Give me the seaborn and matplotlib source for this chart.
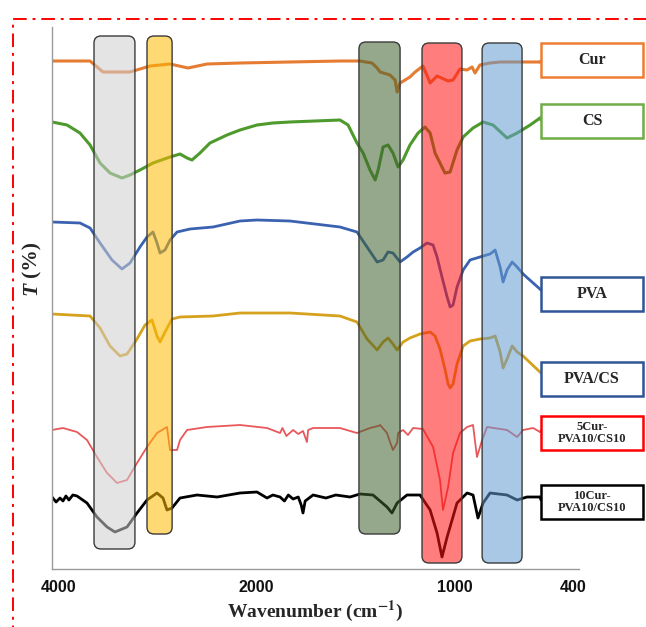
import numpy as np
import matplotlib
matplotlib.use("Agg")
import matplotlib.pyplot as plt
import seaborn as sns
import pandas as pd
from matplotlib.patches import FancyBboxPatch, Rectangle
from matplotlib.lines import Line2D

# ---------------- data (wavenumber cm-1, relative transmittance) ----------------
cur_wn = [4071, 3686, 3555, 3282, 3079, 2877, 2695, 2503, 2169, 1832, 1579, 1478, 1417, 1391,
          1376, 1326, 1300, 1290, 1275, 1225, 1199, 1159, 1123, 1088, 1032, 1007, 972, 936,
          911, 896, 871, 820, 769, 668, 567]
cur_t = [0, 0, -11, -11, -5, -3, -7, -3, -2, -1, 0, 0, -2, -7,
         -11, -14, -19, -31, -22, -16, -11, -5, -22, -15, -20, -19, -8, -9,
         -6, -12, -4, -2, -1, -1, -1]

cs_wn = [4071, 3919, 3788, 3686, 3585, 3484, 3363, 3282, 3181, 3049, 2877, 2776, 2705, 2655,
         2574, 2473, 2301, 2169, 1999, 1918, 1832, 1579, 1538, 1493, 1462, 1427, 1401, 1386,
         1361, 1336, 1311, 1285, 1260, 1225, 1184, 1149, 1123, 1098, 1073, 1048, 1022, 987,
         956, 906, 855, 805, 734, 683, 617, 567]
cs_t = [0, -3, -11, -23, -41, -51, -56, -53, -48, -41, -35, -32, -36, -38,
        -31, -21, -13, -8, -3, -1, 0, 2, -3, -21, -31, -48, -58, -48,
        -25, -23, -31, -45, -38, -23, -11, -5, -11, -31, -41, -51, -50, -28,
        -15, -6, 0, -3, -16, -11, -3, 4]

pva_wn = [4071, 3788, 3686, 3585, 3464, 3363, 3282, 3181, 3110, 3049, 3009, 2978, 2928, 2877,
          2806, 2675, 2442, 2169, 1999, 1832, 1579, 1493, 1442, 1391, 1361, 1336, 1311, 1275,
          1240, 1209, 1174, 1139, 1108, 1088, 1063, 1037, 1022, 1007, 987, 956, 921, 871,
          820, 794, 769, 754, 734, 708, 683, 653]
pva_t = [0, -1, -6, -21, -38, -47, -41, -25, -15, -10, -21, -31, -28, -18,
         -10, -7, -5, 1, 2, 1, -5, -10, -25, -40, -38, -30, -31, -40,
         -35, -30, -26, -21, -23, -35, -55, -75, -85, -83, -65, -48, -38, -35,
         -32, -28, -45, -60, -48, -40, -45, -52]

pvacs_wn = [4071, 3686, 3585, 3484, 3383, 3312, 3211, 3130, 3059, 3009, 2978, 2928, 2857, 2776,
            2442, 2169, 1832, 1579, 1493, 1442, 1391, 1361, 1336, 1311, 1290, 1260, 1225, 1174,
            1123, 1098, 1073, 1048, 1032, 1022, 1007, 987, 956, 921, 871, 820, 794, 769,
            754, 734, 708, 683, 653]
pvacs_t = [0, -2, -14, -32, -42, -40, -25, -11, -6, -22, -28, -18, -5, -3,
           -2, 1, 1, -2, -8, -25, -36, -28, -24, -30, -36, -28, -24, -20,
           -18, -22, -35, -55, -70, -74, -70, -50, -32, -27, -25, -24, -22, -38,
           -54, -45, -32, -38, -42]

c5_wn = [4071, 3960, 3818, 3717, 3616, 3514, 3413, 3312, 3211, 3110, 3009, 2908, 2877, 2806,
         2776, 2705, 2503, 2169, 1948, 1882, 1870, 1850, 1816, 1790, 1766, 1746, 1740, 1715,
         1579, 1528, 1493, 1427, 1386, 1376, 1341, 1326, 1311, 1290, 1285, 1260, 1235, 1209,
         1159, 1108, 1073, 1058, 1032, 1007, 972, 936, 906, 886, 860, 835, 734, 683,
         653, 602, 567]
c5_t = [-2, 0, -4, -12, -29, -45, -55, -52, -35, -19, -5, 1, -22, -22,
        -12, -2, 1, 3, 0, -5, 0, -8, -2, -6, -3, -14, -2, 0,
        0, -3, -5, 0, 2, 3, -5, -14, -22, -15, -5, -2, -7, 0,
        -1, -19, -52, -82, -59, -25, -5, 1, 3, -29, -12, 1, -2, -9,
        -2, 0, -4]

c10_wn = [4071, 4030, 3990, 3960, 3930, 3900, 3860, 3818, 3717, 3616, 3514, 3434, 3312, 3211,
          3110, 3009, 2948, 2908, 2857, 2776, 2604, 2400, 2169, 1999, 1948, 1918, 1882, 1860,
          1840, 1816, 1790, 1775, 1766, 1755, 1715, 1650, 1600, 1528, 1478, 1412, 1341, 1316,
          1290, 1240, 1174, 1123, 1088, 1063, 1037, 987, 936, 906, 881, 855, 820, 734,
          683, 633, 567]
c10_t = [-2, -7, -3, -6, -1, -5, 0, -1, -8, -22, -32, -37, -32, -18,
         -5, 2, -3, -15, -13, -3, 0, -2, 2, 3, -3, 0, -2, -6,
         0, -4, -2, -10, -18, -6, 0, -3, 0, -2, 1, 0, -12, -18,
         -8, 0, 0, -15, -38, -62, -42, -8, 2, 0, -23, -8, 2, 0,
         -5, -2, -2]

labels = ["Cur", "CS", "PVA", "PVA/CS", "5Cur-\nPVA10/CS10", "10Cur-\nPVA10/CS10"]
series_wn = [cur_wn, cs_wn, pva_wn, pvacs_wn, c5_wn, c10_wn]
series_t = [cur_t, cs_t, pva_t, pvacs_t, c5_t, c10_t]

band_ranges = [(3646, 3232), (3110, 2856), (1483, 1275), (1164, 962), (860, 658)]
tick_values = [4000, 2000, 1000, 400]

# ---------------- styling ----------------
W, H = 646, 627
sns.set_theme(style="white")
plt.rcParams['font.family'] = ['Liberation Sans', 'DejaVu Sans']
plt.rcParams['mathtext.fontset'] = 'stix'

line_colors = ["#E57C32", "#4E9A2C", "#3A62B0", "#D6A11C", "#E8585A", "#000000"]
line_widths = [2.2, 2.2, 2.0, 2.0, 1.3, 2.0]
offsets = [508, 447, 347, 255, 141, 74]
box_edge = ["#ED7D31", "#70AD47", "#2F5597", "#2F5597", "#FF0000", "#000000"]
box_tops = [43, 104, 277, 362, 416, 485]
box_conn_y = [61, 120, 290, 373, 430, 500]
band_faces = [(0.81, 0.81, 0.81, 0.55), (1.0, 0.73, 0.0, 0.55), (0.25, 0.38, 0.18, 0.55),
              (1.0, 0.075, 0.075, 0.55), (0.39, 0.61, 0.82, 0.55)]
band_px_y = [(36, 549), (36, 534), (42, 534), (43, 563), (43, 563)]

fig = plt.figure(figsize=(W / 100, H / 100), dpi=100)
ax_l, ax_r, ax_t, ax_b = 52, 579, 27, 569
ax = fig.add_axes([ax_l / W, 1 - ax_b / H, (ax_r - ax_l) / W, (ax_b - ax_t) / H])


def fwd(x):
    x = np.asarray(x, dtype=float)
    return np.where(x > 2000, 2000 + (x - 2000) / 2.0, x)


def inv(t):
    t = np.asarray(t, dtype=float)
    return np.where(t > 2000, 2000 + 2.0 * (t - 2000), t)


ax.set_xscale('function', functions=(fwd, inv))
ax.set_xlim(4071, 370)
ax.set_ylim(0, ax_b - ax_t)

for wn, t, col, lw, off in zip(series_wn, series_t, line_colors, line_widths, offsets):
    df = pd.DataFrame({"wn": wn, "T": np.asarray(t, dtype=float) + off})
    sns.lineplot(data=df, x="wn", y="T", ax=ax, color=col, lw=lw, sort=False,
                 estimator=None, zorder=2)

ax.set_xticks(tick_values)
ax.set_xticklabels([str(v) for v in tick_values], fontsize=11.5, fontweight='bold')
ax.tick_params(axis='x', length=0, pad=8, colors='#111111')
ax.set_yticks([])
ax.set_xlabel("")
ax.set_ylabel("")
for s in ['top', 'right']:
    ax.spines[s].set_visible(False)
for s in ['left', 'bottom']:
    ax.spines[s].set_color('#9a9a9a')
    ax.spines[s].set_linewidth(1.0)

fig.canvas.draw()

# bands (rounded boxes, overlayed with transparency)
for (w1, w2), fc, (ytop, ybot) in zip(band_ranges, band_faces, band_px_y):
    x1 = ax.transData.transform((w1, 0))[0]
    x2 = ax.transData.transform((w2, 0))[0]
    p = FancyBboxPatch((x1 / W, 1 - ybot / H), (x2 - x1) / W, (ybot - ytop) / H,
                       boxstyle="round,pad=0,rounding_size=0.011",
                       transform=fig.transFigure, facecolor=fc, edgecolor="#3a3a3a",
                       linewidth=1.0, zorder=5)
    fig.add_artist(p)

# label boxes + connectors
box_l, box_r, box_h = 541, 643, 34
for lab, ec, top, cy, wn, t, col, lw, off in zip(labels, box_edge, box_tops, box_conn_y,
                                                 series_wn, series_t, line_colors,
                                                 line_widths, offsets):
    xe, ye = ax.transData.transform((wn[-1], t[-1] + off))
    conn = Line2D([xe / W, box_l / W], [ye / H, 1 - cy / H], transform=fig.transFigure,
                  color=col, lw=lw)
    fig.add_artist(conn)
    r = Rectangle((box_l / W, 1 - (top + box_h) / H), (box_r - box_l) / W, box_h / H,
                  transform=fig.transFigure, facecolor='white', edgecolor=ec,
                  linewidth=1.8, zorder=6)
    fig.add_artist(r)
    fs = 11.5 if "\n" not in lab else 9
    fig.text((box_l + box_r) / 2 / W, 1 - (top + box_h / 2) / H, lab, ha='center',
             va='center', fontsize=fs, fontweight='bold', family='Liberation Serif',
             linespacing=1.0, zorder=7)

# axis titles
fig.text(315 / W, 1 - 611 / H, "Wavenumber (cm$^{\\mathbf{-1}}$)", ha='center', va='center',
         fontsize=14, fontweight='bold', family='Liberation Serif')
fig.text(31 / W, 1 - 288 / H, "T", rotation=90, ha='center', va='center', fontsize=15.5,
         fontweight='bold', style='italic', family='Liberation Serif')
fig.text(31 / W, 1 - 259 / H, "(%)", rotation=90, ha='center', va='center', fontsize=15.5,
         fontweight='bold', family='Liberation Serif')

# red dash-dot frame
frame = Rectangle((13 / W, -0.05), 1.2, 1 - 19 / H + 0.05, transform=fig.transFigure,
                  fill=False, edgecolor='red', linewidth=1.4,
                  linestyle=(0, (7, 3, 1.5, 3)), clip_on=False)
fig.add_artist(frame)

fig.savefig("out.png", dpi=100)
